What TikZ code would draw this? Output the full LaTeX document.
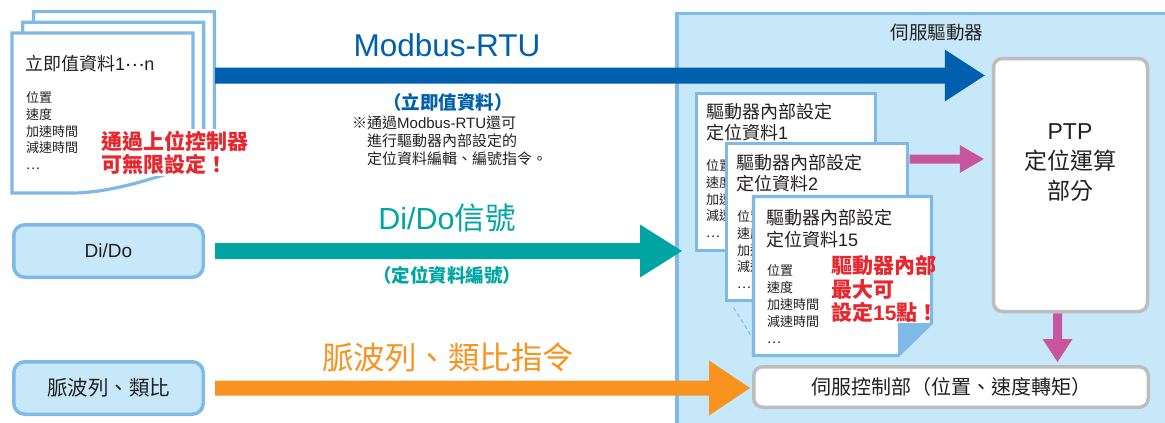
\documentclass[tikz,border=0pt]{standalone}
\usepackage{fontspec}
\setmainfont{Noto Sans CJK TC}
\newfontfamily\lat{Liberation Sans}
\usetikzlibrary{calc}
\definecolor{mbblue}{HTML}{0060AE}
\definecolor{tealc}{HTML}{00A5A3}
\definecolor{orng}{HTML}{F7931E}
\definecolor{mag}{HTML}{C8569E}
\definecolor{pfill}{HTML}{C6E8F8}
\definecolor{lblue}{HTML}{7FB9E6}
\definecolor{gbord}{HTML}{BDBDBD}
\definecolor{redt}{HTML}{E8262D}
\definecolor{dark}{HTML}{231F20}
\newcommand\fsz[2]{\fontsize{#1}{#2}\selectfont}
% horizontal block arrow: colour, start, tip, half shaft, head length, half head
\newcommand\harrow[6]{\fill[#1] ($#2+(0,#4)$) -- ($#3+(-#5,#4)$) -- ($#3+(-#5,#6)$) -- #3 -- ($#3+(-#5,-#6)$) -- ($#3+(-#5,-#4)$) -- ($#2+(0,-#4)$) -- cycle;}
\begin{document}
\begin{tikzpicture}[x=1pt,y=-1pt,
  sheet/.style={draw=lblue, fill=white, line width=3.2pt},
  card/.style={draw=lblue, fill=white, line width=3.2pt, inner sep=0pt},
  gbox/.style={draw=gbord, fill=white, line width=3.5pt, rounded corners=9pt, inner sep=0pt, text=dark},
  lbox/.style={draw=lblue, fill=pfill, line width=3.5pt, rounded corners=11pt, inner sep=0pt, text=dark},
  txt/.style={inner sep=0pt, text=dark},
  redtxt/.style={inner sep=0pt, text=redt, align=left, font=\fsz{21}{23.3}\bfseries},
  items/.style={inner sep=0pt, text=dark, align=left, font=\fsz{13}{16.9}},
  ctitle/.style={inner sep=0pt, text=dark, align=left, font=\fsz{18}{21.5}}]
\useasboundingbox (0,0) rectangle (1165,423);

% driver panel
\node[draw=lblue, fill=pfill, line width=3.5pt, anchor=north west, minimum width=500pt, minimum height=430pt] (panel) at (675,11.5) {};
\node[txt, font=\fsz{18.5}{22}] (drv) at (937,33) {伺服驅動器};

% stacked sheets (top left)
\foreach \d in {21.4,10.7,0}{
  \draw[sheet, shift={(\d,-\d)}] (12,33) -- (193,33) -- (193,166) .. controls (170,172) and (120,192) .. (75,193) -- (12,193) -- cycle;
}
\node[txt, anchor=west, font=\fsz{18}{22}] (t1) at (25,63.5) {立即值資料{\lat 1}\raisebox{0.22em}{…}{\lat n}};
\node[items, anchor=north west] (t1items) at (26,91) {位置\\速度\\加速時間\\減速時間\\…};
\node[redtxt, anchor=north west, fill=white, inner sep=2pt] (t1red) at (99,128.5) {通過上位控制器\\可無限設定！};

% left boxes
\node[lbox, minimum width=189.5pt, minimum height=52.5pt] (dido) at (108.5,251) {\fsz{19}{22}\lat Di/Do};
\node[lbox, minimum width=189.5pt, minimum height=52.5pt] (pulse) at (108.5,388) {\fsz{20.5}{24}脈波列、類比};

% PTP and servo boxes
\node[gbox, minimum width=154pt, minimum height=253pt] (ptp) at (1070.5,185) {};
\node[txt, align=center, font=\fsz{23}{30}] (ptpt) at (1070,163) {{\lat PTP}\\定位運算\\部分};
\node[gbox, minimum width=394.5pt, minimum height=40.5pt] (servo) at (951,387) {\fsz{20}{24}伺服控制部（位置、速度轉矩）};

% Modbus arrow
\coordinate (mbS) at (215,75.5);
\coordinate (mbT) at ($(ptp.west |- mbS)+(-7,0)$);
\harrow{mbblue}{(mbS)}{(mbT)}{8}{40}{26}
\node[txt, text=mbblue, font=\fsz{31.5}{34}\lat] (mbl) at (447,45) {Modbus-RTU};
\node[txt, text=mbblue, font=\fsz{18.5}{22}\bfseries] (mbl2) at (448,102) {（立即值資料）};
\node[txt, anchor=north west, align=left, font=\fsz{15}{18}] (note) at (352,116) {※通過{\lat Modbus-RTU}還可\\\hspace*{1em}進行驅動器內部設定的\\\hspace*{1em}定位資料編輯、編號指令。};

% Di/Do arrow
\coordinate (ddS) at ($(dido.east)+(10,0)$);
\coordinate (ddT) at ($(panel.west |- ddS)+(7,0)$);
\harrow{tealc}{(ddS)}{(ddT)}{8}{42}{26.5}
\node[txt, text=tealc, font=\fsz{30.5}{34}] (ddl) at (447,218) {{\lat Di/Do}信號};
\node[txt, text=tealc, font=\fsz{18.5}{22}\bfseries] (ddl2) at (447,275) {（定位資料編號）};

% pulse arrow
\coordinate (plS) at ($(pulse.east)+(10,0)$);
\coordinate (plT) at ($(servo.west |- plS)+(-2,0)$);
\harrow{orng}{(plS)}{(plT)}{7.5}{41}{27.5}
\node[txt, text=orng, font=\fsz{31.5}{34}] (pll) at (448,357) {脈波列、類比指令};

% internal cards
\node[card, anchor=north west, minimum width=179pt, minimum height=157pt] (c1) at (694.5,91.5) {};
\node[ctitle, anchor=north west] (c1t) at (706,103) {驅動器內部設定\\定位資料{\lat 1}};
\node[items, anchor=north west] (c1i) at (706,159) {位置\\速度\\加速時間\\減速時間\\…};
\node[card, anchor=north west, minimum width=181pt, minimum height=157pt] (c2) at (724.5,141.5) {};
\node[ctitle, anchor=north west] (c2t) at (736,154) {驅動器內部設定\\定位資料{\lat 2}};
\node[items, anchor=north west] (c2i) at (737,210) {位置\\速度\\加速時間\\減速時間\\…};

% magenta arrows
\coordinate (mgS) at ($(c2.east |- 0,159)+(1,0)$);
\coordinate (mgT) at ($(ptp.west |- mgS)+(-8,0)$);
\harrow{mag}{(mgS)}{(mgT)}{4.5}{24}{14}
\coordinate (vS) at (ptp.south -| 1057.5,0);
\coordinate (vT) at ($(servo.north -| vS)+(0,-3)$);
\fill[mag] ($(vS)+(-4.5,0)$) -- ($(vT)+(-4.5,-23)$) -- ($(vT)+(-15,-23)$) -- (vT) -- ($(vT)+(15,-23)$) -- ($(vT)+(4.5,-23)$) -- ($(vS)+(4.5,0)$) -- cycle;

% dashed guide and card 15
\coordinate (dgA) at ($(c2.south west)+(9,6)$);
\coordinate (c3sw) at (753.5,355.5);
\draw[lblue, line width=1pt, dash pattern=on 4pt off 3pt] (dgA) -- ($(c3sw)+(0,-16)$);
\draw[card] (c3sw) -- (753.5,196.5) -- (931.5,196.5) -- (931.5,323) -- (898,355.5) -- cycle;
\fill[lblue] (898,323) -- (933,323) -- (898,357) -- cycle;
\node[ctitle, anchor=north west] (c3t) at (766,209.5) {驅動器內部設定\\定位資料{\lat 15}};
\node[items, anchor=north west] (c3i) at (767,264.5) {位置\\速度\\加速時間\\減速時間\\…};
\node[redtxt, anchor=north west] (c3red) at (831,255.5) {驅動器內部\\最大可\\設定{\lat 15}點！};
\end{tikzpicture}
\end{document}
